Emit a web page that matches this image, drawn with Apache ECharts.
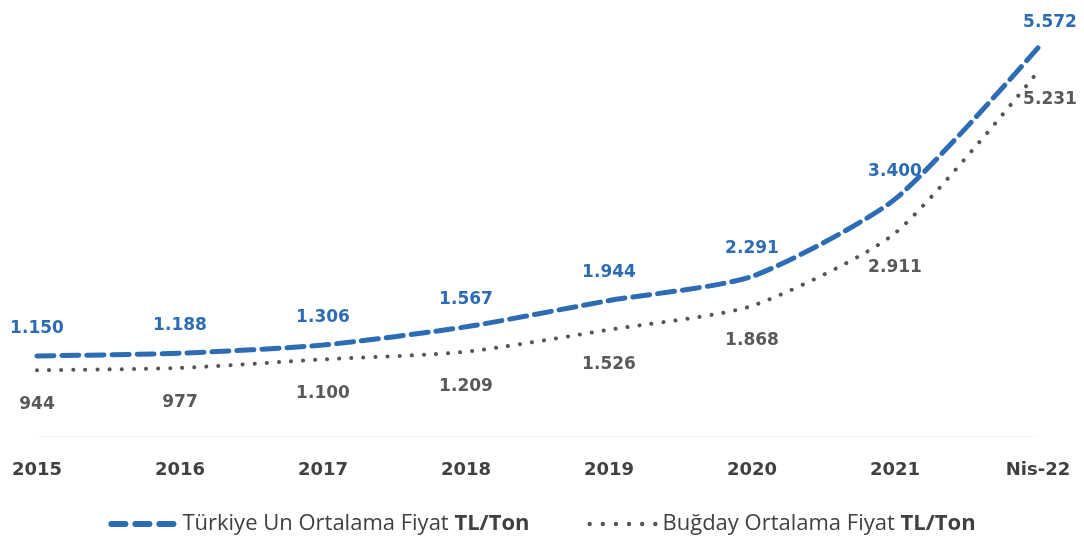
<!DOCTYPE html>
<html>
<head>
<meta charset="utf-8">
<script src="https://cdn.jsdelivr.net/npm/echarts@6/dist/echarts.min.js"></script>
<style>
  html, body { margin: 0; padding: 0; background: #fff; }
  #chart { width: 1084px; height: 545px; }
</style>
</head>
<body>
<div id="chart"></div>
<script>
const categories = ['2015', '2016', '2017', '2018', '2019', '2020', '2021', 'Nis-22']
const flourPrices = [1150, 1188, 1306, 1567, 1944, 2291, 3400, 5572]
const wheatPrices = [944, 977, 1100, 1209, 1526, 1868, 2911, 5231]

const FLOUR_NAME = 'Türkiye Un Ortalama Fiyat TL/Ton'
const WHEAT_NAME = 'Buğday Ortalama Fiyat TL/Ton'
const BLUE = '#2b6cb5'
const GRAY = '#555555'

// legend icons: three dashes / six dots
const DASH_ICON = 'path://M3,0h14a3,3 0 0 1 0,6h-14a3,3 0 0 1 0,-6z M27,0h14a3,3 0 0 1 0,6h-14a3,3 0 0 1 0,-6z M51,0h14a3,3 0 0 1 0,6h-14a3,3 0 0 1 0,-6z'
const DOT_ICON = 'path://' + [0, 12, 24, 36, 48, 60].map((x) =>
  'M' + x + ',2a2,2 0 1,0 4,0a2,2 0 1,0 -4,0z').join(' ')

function formatTr(v) {
  return String(v).replace(/\B(?=(\d{3})+(?!\d))/g, '.')
}

function buildData(values, lastOffset) {
  return values.map((v, i) => {
    const item = { value: v }
    if (i === values.length - 1) {
      item.label = { offset: lastOffset }
    }
    return item
  })
}

const chart = echarts.init(document.getElementById('chart'), undefined, { renderer: 'canvas' })

chart.setOption({
  animation: false,
  textStyle: { fontFamily: 'DejaVu Sans, sans-serif' },
  grid: { top: 18, left: 37, right: 46, bottom: 109 },
  legend: {
    bottom: 5,
    left: 'center',
    itemWidth: 70,
    itemHeight: 6,
    itemGap: 58,
    data: [
      { name: FLOUR_NAME, icon: DASH_ICON },
      { name: WHEAT_NAME, icon: DOT_ICON }
    ],
    formatter: (name) => {
      const parts = name.split(' TL/Ton')
      return '{n|' + parts[0] + ' }{b|TL/Ton}'
    },
    textStyle: {
      padding: [0, 0, 0, 0],
      rich: {
        n: { fontFamily: 'Open Sans, sans-serif', fontSize: 22, color: '#404040' },
        b: { fontFamily: 'Open Sans, sans-serif', fontSize: 22, fontWeight: 'bold', color: '#404040' }
      }
    }
  },
  xAxis: {
    type: 'category',
    boundaryGap: false,
    data: categories,
    axisTick: { show: false },
    axisLine: { lineStyle: { color: '#f4f4f4' } },
    axisLabel: {
      margin: 25,
      color: '#404040',
      fontSize: 18,
      fontWeight: 'bold',
      interval: 0
    },
    splitLine: { show: false }
  },
  yAxis: {
    type: 'value',
    min: 0,
    max: 6000,
    show: false
  },
  series: [
    {
      name: FLOUR_NAME,
      type: 'line',
      smooth: 0.22,
      showSymbol: true,
      symbol: 'circle',
      symbolSize: 0,
      data: buildData(flourPrices, [12, 2]),
      lineStyle: { color: BLUE, width: 5, type: [17, 8], cap: 'round' },
      itemStyle: { color: BLUE },
      label: {
        show: true,
        position: 'top',
        distance: 19,
        color: BLUE,
        fontSize: 17,
        fontWeight: 'bold',
        formatter: (p) => formatTr(p.value)
      },
      z: 3
    },
    {
      name: WHEAT_NAME,
      type: 'line',
      smooth: 0.22,
      showSymbol: true,
      symbol: 'circle',
      symbolSize: 0,
      data: buildData(wheatPrices, [12, -6]),
      lineStyle: { color: GRAY, width: 4, type: [0.1, 12], cap: 'round' },
      itemStyle: { color: GRAY },
      label: {
        show: true,
        position: 'bottom',
        distance: 26,
        color: '#595959',
        fontSize: 17,
        fontWeight: 'bold',
        formatter: (p) => formatTr(p.value)
      },
      z: 2
    }
  ]
})
</script>
</body>
</html>
